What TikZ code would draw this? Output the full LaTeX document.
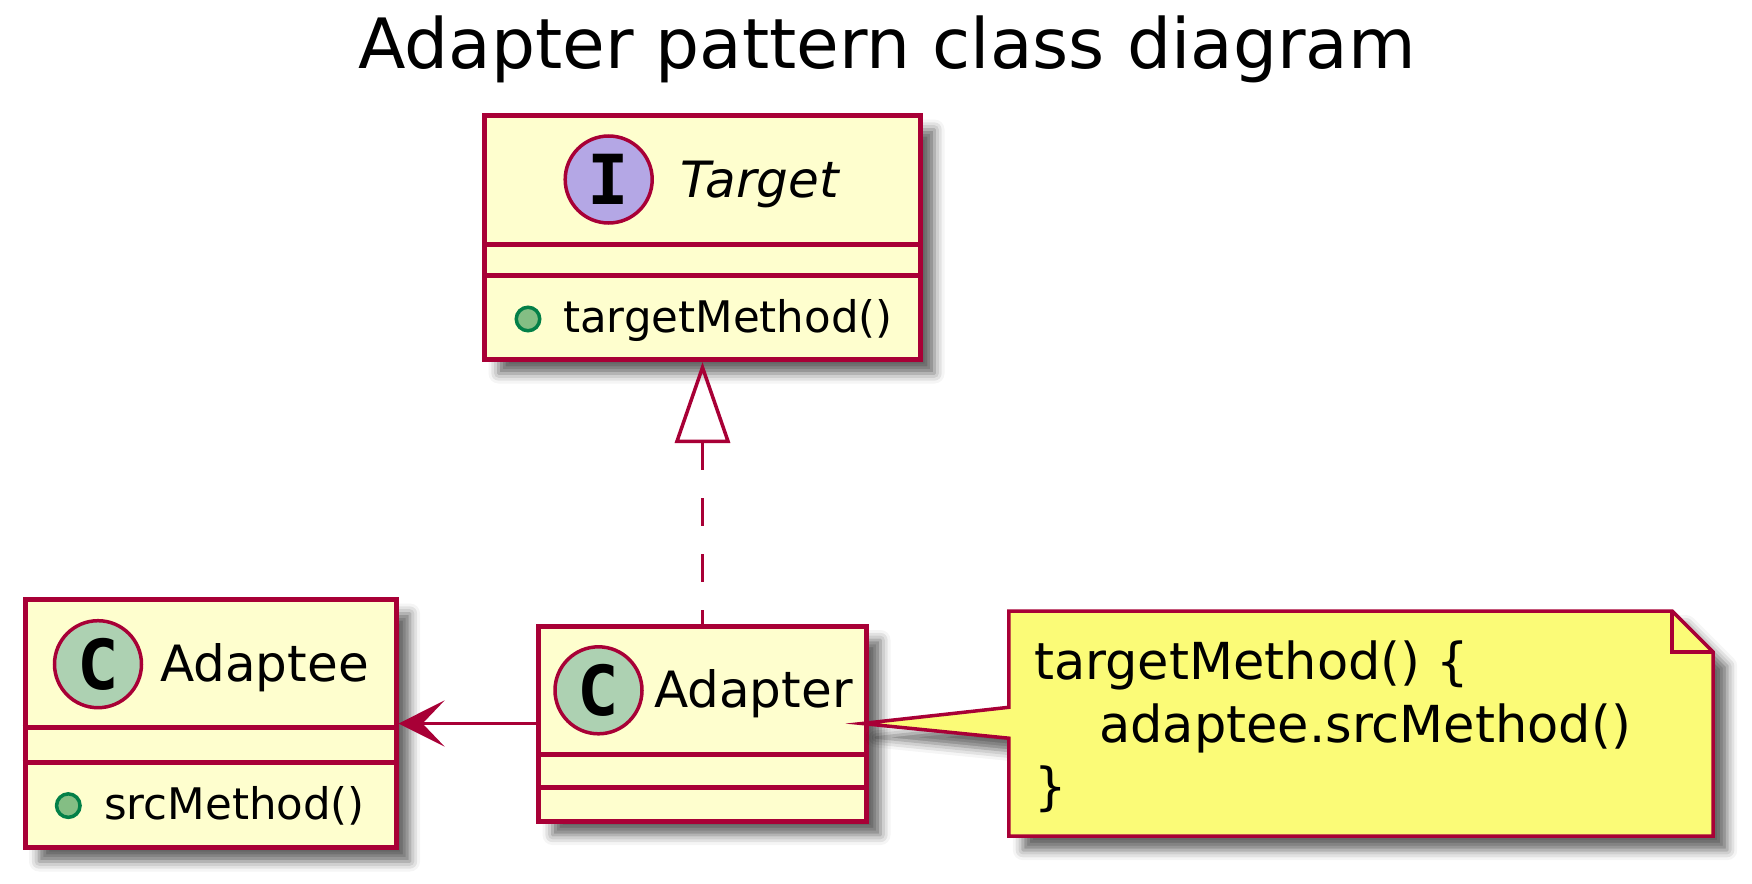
\documentclass[tikz,border=0pt]{standalone}
\usepackage{fontspec}
\setmainfont{DejaVu Sans}
\newfontfamily\spotfont{DejaVu Sans Mono}
\usetikzlibrary{arrows.meta,positioning,shadows.blur}

\definecolor{umlred}{HTML}{A80036}
\definecolor{classfill}{HTML}{FEFECE}
\definecolor{notefill}{HTML}{FBFB77}
\definecolor{spotC}{HTML}{ADD1B2}
\definecolor{spotI}{HTML}{B4A7E5}
\definecolor{pubfill}{HTML}{84BE84}
\definecolor{publine}{HTML}{038048}

\tikzset{
  drop/.style={blur shadow={shadow xshift=14pt,shadow yshift=-14pt,shadow blur radius=10pt,shadow opacity=60}},
  classbox/.style={draw=umlred,fill=classfill,line width=5pt,drop,inner sep=0pt},
  divider/.style={draw=umlred,line width=5pt},
  spot/.style={circle,draw=umlred,line width=3.5pt,minimum size=87pt,inner sep=0pt,
    font=\spotfont\bfseries\fontsize{69}{69}\selectfont},
  classname/.style={anchor=base west,inner sep=0pt,font=\fontsize{50}{60}\selectfont},
  member/.style={anchor=base west,inner sep=0pt,font=\fontsize{43.5}{52}\selectfont},
  pub/.style={circle,draw=publine,fill=pubfill,line width=3.5pt,minimum size=23.5pt,inner sep=0pt},
  notepath/.style={draw=umlred,fill=notefill,line width=3.5pt,line join=miter},
  notetext/.style={anchor=base west,align=left,inner sep=0pt,font=\fontsize{51}{62.7}\selectfont},
  assoc/.style={draw=umlred,line width=3.5pt,-{Stealth[length=46pt,width=46pt,inset=22pt]}},
  realize/.style={draw=umlred,line width=3.5pt,dash pattern=on 28pt off 28pt,
    {Triangle[open,length=81pt,width=55pt]}-}
}

\begin{document}
\begin{tikzpicture}[x=1pt,y=-1pt]
  \useasboundingbox (0,0) rectangle (1752,883);

  \node[anchor=base,inner sep=0pt,font=\fontsize{69.4}{80}\selectfont] (title) at (887,68) {Adapter pattern class diagram};

  % interface Target
  \node[classbox,minimum width=436pt,minimum height=244pt] (target) at (702.5,237.5) {};
  \draw[divider] (target.west |- 0,244) -- (target.east |- 0,244)
                 (target.west |- 0,275) -- (target.east |- 0,275);
  \node[spot,fill=spotI] (targetspot) at (608.7,179.5) {I};
  \node[classname,font=\fontsize{50}{60}\selectfont\itshape] (targetname) at (680,197) {Target};
  \node[pub] (targetpub) at (528,319) {};
  \node[member] (targetop) at (563,332) {targetMethod()};

  % class Adaptee
  \node[classbox,minimum width=371pt,minimum height=248pt] (adaptee) at (210.5,723.5) {};
  \draw[divider] (adaptee.west |- 0,727.6) -- (adaptee.east |- 0,727.6)
                 (adaptee.west |- 0,762.3) -- (adaptee.east |- 0,762.3);
  \node[spot,fill=spotC] (adapteespot) at (98,664.2) {C};
  \node[classname] (adapteename) at (160,681) {Adaptee};
  \node[pub] (adapteepub) at (68.3,805.6) {};
  \node[member] (adapteeop) at (104,819) {srcMethod()};

  % class Adapter
  \node[classbox,minimum width=328pt,minimum height=195pt] (adapter) at (702.5,723.5) {};
  \draw[divider] (adapter.west |- 0,754.6) -- (adapter.east |- 0,754.6)
                 (adapter.west |- 0,787) -- (adapter.east |- 0,787);
  \node[spot,fill=spotC] (adapterspot) at (598.5,690.3) {C};
  \node[classname] (adaptername) at (654,707.3) {Adapter};

  \path (adapter) edge[assoc] (adaptee)
        (target)  edge[realize] (adapter);

  % note
  \node[minimum width=704pt,minimum height=224.6pt,inner sep=0pt] (note) at (1361,723.6) {};
  \draw[notepath,drop] (note.north west) -- ([xshift=-41pt]note.north east)
        -- ([yshift=-41pt]note.north east) -- (note.south east) -- (note.south west)
        -- ([yshift=-14.6pt]note.west) -- ([xshift=-7pt]adapter.east)
        -- ([yshift=16.3pt]note.west) -- cycle;
  \draw[notepath,fill=none] ([xshift=-41pt]note.north east) |- ([yshift=-41pt]note.north east);
  \node[notetext] (notecode) at (1034,804.7) {targetMethod() \{\\\hspace*{65pt}adaptee.srcMethod()\\\}};
\end{tikzpicture}
\end{document}
